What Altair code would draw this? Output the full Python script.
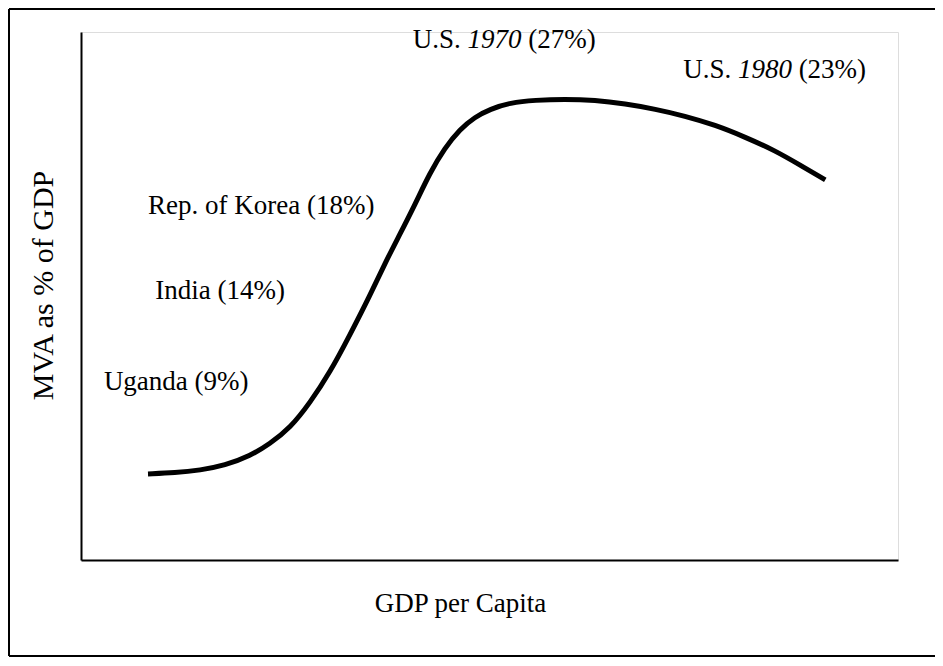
import altair as alt
import pandas as pd

# Curve: GDP per capita (arbitrary units) vs MVA as % of GDP (arbitrary units)
gdp = [8.2, 11.5, 14.6, 17.6, 20.7, 23.1, 25.6, 28.0, 30.5, 32.9, 35.4, 37.2, 39.0,
       40.9, 42.7, 44.5, 46.4, 48.2, 50.1, 52.5, 55.6, 59.2, 62.9, 66.6, 70.3, 73.9,
       77.6, 81.3, 85.0, 88.0, 91.1]
mva = [16.3, 16.5, 17.0, 17.9, 19.7, 22.0, 25.0, 29.7, 35.6, 42.6, 50.2, 56.2, 61.6,
       67.4, 73.3, 78.0, 81.6, 83.9, 85.4, 86.6, 87.1, 87.3, 87.1, 86.4, 85.4, 84.1,
       82.4, 80.1, 77.5, 74.8, 72.0]

# Annotations
label_country = ["Uganda", "India", "Rep. of Korea", "U.S.", "U.S."]
label_year = ["", "", "", "1970", "1980"]
label_share = ["(9%)", "(14%)", "(18%)", "(27%)", "(23%)"]
label_x = [2.8, 9.1, 8.2, 40.6, 73.7]
label_y = [32.2, 49.4, 65.5, 97.0, 91.3]

FONT = "Liberation Serif"
FS = 27
W, H = 817, 528

curve_df = pd.DataFrame({"gdp": gdp, "mva": mva})
lab = pd.DataFrame({"country": label_country, "year": label_year,
                    "share": label_share, "x": label_x, "y": label_y})
plain = lab[lab["year"] == ""].copy()
plain["text"] = plain["country"] + " " + plain["share"]
us = lab[lab["year"] != ""].copy()

xs = alt.Scale(domain=[0, 100], nice=False, zero=False)
ys = alt.Scale(domain=[0, 100], nice=False, zero=False)

xaxis = alt.Axis(domain=True, ticks=False, labels=False, grid=False,
                 domainColor="black", domainWidth=2,
                 title="GDP per Capita", titleFont=FONT, titleFontSize=FS,
                 titleFontWeight="normal", titleColor="black",
                 titleX=379, titleY=51, titleAlign="center",
                 titleBaseline="alphabetic", titleAnchor="start")
yaxis = alt.Axis(domain=True, ticks=False, labels=False, grid=False,
                 domainColor="black", domainWidth=2,
                 title="MVA as % of GDP", titleFont=FONT, titleFontSize=30,
                 titleFontWeight="normal", titleColor="black",
                 titleX=-29, titleY=253, titleAlign="center", titleAngle=270,
                 titleBaseline="alphabetic", titleAnchor="start")

curve = alt.Chart(curve_df).mark_line(
    color="black", strokeWidth=5, interpolate="basis", strokeCap="butt"
).encode(
    x=alt.X("gdp:Q", scale=xs, axis=xaxis),
    y=alt.Y("mva:Q", scale=ys, axis=yaxis),
)

def txt(df, field, dx=0, italic=False):
    return alt.Chart(df).mark_text(
        font=FONT, fontSize=FS, color="black", align="left",
        baseline="alphabetic", dx=dx, fontStyle="italic" if italic else "normal"
    ).encode(
        x=alt.X("x:Q", scale=xs), y=alt.Y("y:Q", scale=ys), text=f"{field}:N"
    )

t_plain = txt(plain, "text")
t_us = txt(us, "country")
t_year = txt(us, "year", dx=54.8, italic=True)
t_share = txt(us, "share", dx=115.5)

frame_style = dict(color="black", strokeWidth=2)
frame_top = alt.Chart(curve_df).mark_rule(**frame_style).encode(
    x=alt.value(-72), x2=alt.value(854), y=alt.value(-23))
frame_left = alt.Chart(curve_df).mark_rule(**frame_style).encode(
    x=alt.value(-72), y=alt.value(-23), y2=alt.value(624))
frame_bottom = alt.Chart(curve_df).mark_rule(**frame_style).encode(
    x=alt.value(-72), x2=alt.value(854), y=alt.value(624))

chart = alt.layer(
    frame_top, frame_left, frame_bottom, curve, t_plain, t_us, t_year, t_share
).properties(
    width=W, height=H,
    autosize=alt.AutoSizeParams(type="none"),
    padding={"left": 73, "top": 24, "right": 37, "bottom": 97},
).configure_view(stroke=None).configure(background="white")

chart.save("out.html", embed_options={"renderer": "svg", "actions": False})
